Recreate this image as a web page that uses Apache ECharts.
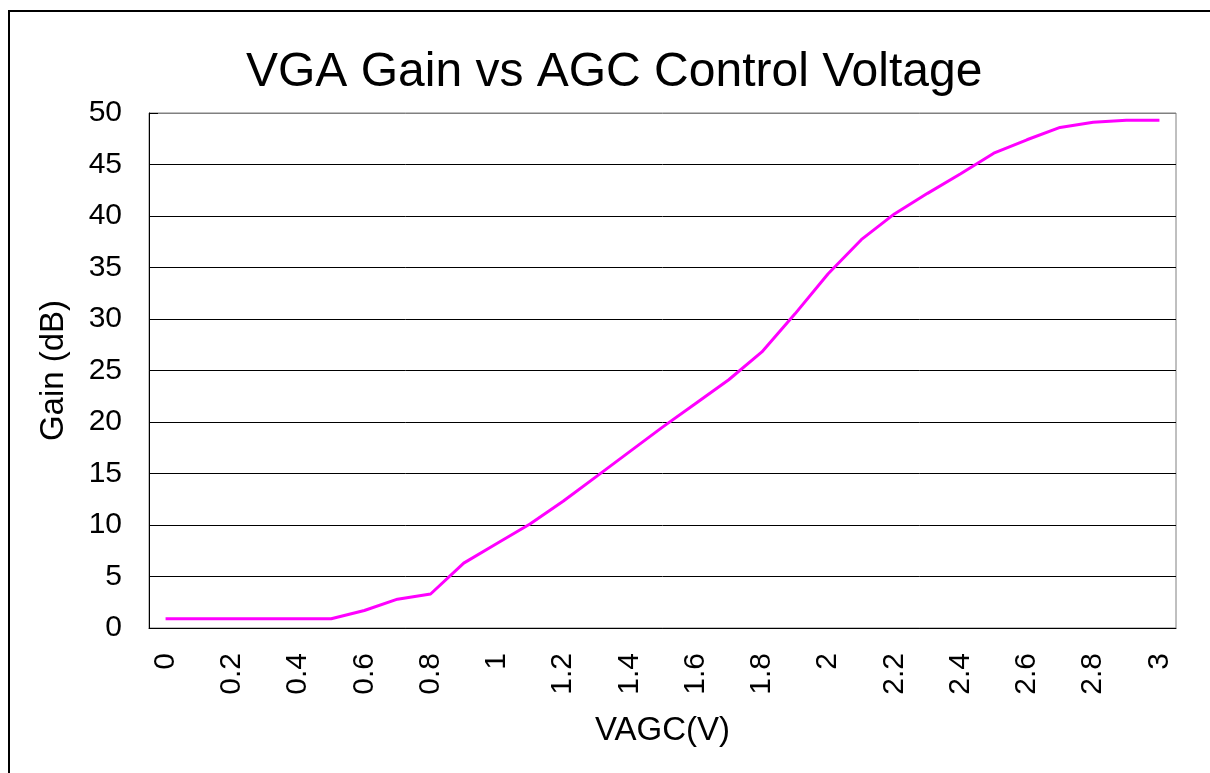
<!DOCTYPE html>
<html>
<head>
<meta charset="utf-8">
<title>VGA Gain vs AGC Control Voltage</title>
<script src="https://cdn.jsdelivr.net/npm/echarts@6/dist/echarts.min.js"></script>
<style>
  html, body { margin: 0; padding: 0; background: #fff; }
  #chart { width: 1210px; height: 773px; }
</style>
</head>
<body>
<div id="chart"></div>
<script>
// VAGC steps (V), every other one gets a label
var vagc = ['0', '0.1', '0.2', '0.3', '0.4', '0.5', '0.6', '0.7', '0.8', '0.9',
  '1', '1.1', '1.2', '1.3', '1.4', '1.5', '1.6', '1.7', '1.8', '1.9',
  '2', '2.1', '2.2', '2.3', '2.4', '2.5', '2.6', '2.7', '2.8', '2.9', '3'];
// gain in dB
var gain = [0.9, 0.9, 0.9, 0.9, 0.9, 0.9, 1.7, 2.8, 3.3, 6.3,
  8.2, 10.1, 12.3, 14.7, 17.1, 19.5, 21.8, 24.1, 26.8, 30.5,
  34.4, 37.7, 40.2, 42.2, 44.1, 46.1, 47.4, 48.6, 49.1, 49.3, 49.3];
var gainTicks = [0, 50, 5];

var font = 'Liberation Sans, Arial, sans-serif';
var chart = echarts.init(document.getElementById('chart'));

// gridline colours: black, top one grey like the plot border
var splitColors = [];
for (var i = 0; i <= 10; i++) splitColors.push(i === 10 ? '#808080' : '#000');

chart.setOption({
  animation: false,
  backgroundColor: '#fff',
  textStyle: { fontFamily: font, color: '#000' },
  title: {
    text: 'VGA Gain vs AGC Control Voltage',
    left: 241,
    top: 44,
    textStyle: { fontFamily: font, fontSize: 48, fontWeight: 'normal', color: '#000' }
  },
  graphic: [{
    type: 'rect',
    shape: { x: 9, y: 11, width: 1300, height: 900 },
    style: { fill: 'none', stroke: '#000', lineWidth: 2 },
    silent: true
  }],
  grid: {
    left: 149, right: 34, top: 113, bottom: 145,
    show: true, borderColor: '#808080', borderWidth: 1, backgroundColor: 'transparent'
  },
  xAxis: {
    type: 'category',
    data: vagc,
    boundaryGap: true,
    name: 'VAGC(V)',
    nameLocation: 'middle',
    nameGap: 86,
    nameTextStyle: { fontFamily: font, fontSize: 33, color: '#000' },
    axisLine: { lineStyle: { color: '#000', width: 1 } },
    axisTick: { inside: true, length: 9, interval: 0, lineStyle: { color: '#000' } },
    axisLabel: { interval: 1, rotate: 90, margin: 25, fontFamily: font, fontSize: 30, color: '#000' },
    splitLine: { show: false }
  },
  yAxis: {
    type: 'value',
    min: gainTicks[0],
    max: gainTicks[1],
    interval: gainTicks[2],
    name: 'Gain (dB)',
    nameLocation: 'middle',
    nameGap: 79,
    nameTextStyle: { fontFamily: font, fontSize: 33, color: '#000' },
    axisLine: { show: true, lineStyle: { color: '#000', width: 1 } },
    axisTick: { show: true, inside: true, length: 9, lineStyle: { color: '#000' } },
    axisLabel: { margin: 27, fontFamily: font, fontSize: 30, color: '#000' },
    splitLine: { show: true, lineStyle: { color: splitColors, width: 1 } }
  },
  series: [{
    type: 'line',
    data: gain,
    symbol: 'none',
    smooth: false,
    lineStyle: { color: '#ff00ff', width: 3 },
    itemStyle: { color: '#ff00ff' }
  }]
});
</script>
</body>
</html>
